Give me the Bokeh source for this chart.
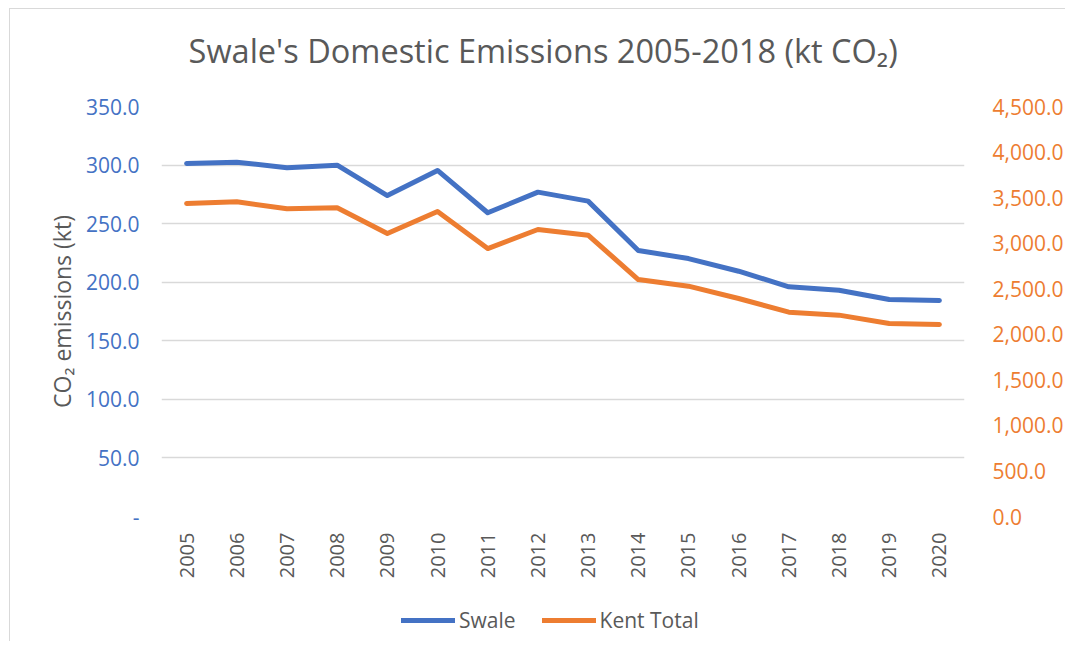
import math
from bokeh.plotting import figure
from bokeh.layouts import column
from bokeh.models import (Range1d, LinearAxis, FixedTicker, NumeralTickFormatter,
                          Legend, LegendItem, Label)
from bokeh.embed import file_html
from bokeh.resources import INLINE

years = list(range(2005, 2021))
swale = [301.3, 302.5, 297.7, 299.9, 274.0, 295.4, 259.3, 276.9, 269.2, 227.1,
         220.2, 209.4, 196.1, 193.2, 185.2, 184.4]
kent_total = [3435, 3454, 3377, 3388, 3106, 3348, 2941, 3150, 3088, 2601,
              2528, 2393, 2243, 2210, 2118, 2107]
left_ticks = [0, 50, 100, 150, 200, 250, 300, 350]
right_ticks = [0, 500, 1000, 1500, 2000, 2500, 3000, 3500, 4000, 4500]
series_names = ["Swale", "Kent Total"]
title_text = "Swale's Domestic Emissions 2005-2018 (kt CO\u2082)"

BLUE = "#4472C4"
ORANGE = "#ED7D31"
GREY = "#595959"
BORDER = "#d9d9d9"
FONT = "Open Sans"


def strip(height, margin, styles):
    f = figure(width=1056, height=height, output_backend="svg", toolbar_location=None,
               x_axis_type=None, y_axis_type=None, x_range=Range1d(0, 1),
               y_range=Range1d(0, 1), min_border_left=0, min_border_right=0,
               min_border_top=0, min_border_bottom=0, margin=margin)
    f.styles = styles
    f.outline_line_color = None
    f.xgrid.grid_line_color = None
    f.ygrid.grid_line_color = None
    return f


# title strip (its frame is aligned with the chart's frame)
tt = strip(70, (8, 0, 0, 9), {"border-left": f"1px solid {BORDER}",
                              "border-top": f"1px solid {BORDER}"})
tt.add_layout(Label(x=0.4753, y=0.414, text=title_text, text_align="center",
                    text_baseline="middle", text_font=FONT, text_font_size="32.5px",
                    text_color=GREY))

p = figure(width=1056, height=519, output_backend="svg", toolbar_location=None,
           x_range=Range1d(2004.5, 2020.5), y_range=Range1d(0, 350),
           min_border_left=151, min_border_right=95, min_border_top=28,
           min_border_bottom=81, margin=(0, 0, 0, 9))
p.styles = {"border-left": f"1px solid {BORDER}"}
p.outline_line_color = None
p.background_fill_color = "white"
p.border_fill_color = "white"

p.extra_y_ranges = {"kent": Range1d(0, 4500)}

xa = p.xaxis[0]
xa.ticker = FixedTicker(ticks=years)
xa.major_label_orientation = math.pi / 2
xa.major_label_text_font = FONT
xa.major_label_text_font_size = "20px"
xa.major_label_text_color = GREY
xa.axis_line_color = None
xa.major_tick_line_color = None
xa.minor_tick_line_color = None
xa.major_label_standoff = 10

ya = p.yaxis[0]
ya.ticker = FixedTicker(ticks=left_ticks)
ya.formatter = NumeralTickFormatter(format="0.0")
ya.major_label_overrides = {0: "-"}
ya.major_label_text_font = FONT
ya.major_label_text_font_size = "21px"
ya.major_label_text_color = BLUE
ya.axis_line_color = None
ya.major_tick_line_color = None
ya.minor_tick_line_color = None
ya.major_label_standoff = 16
ya.axis_label = "CO\u2082 emissions (kt)"
ya.axis_label_text_font = FONT
ya.axis_label_text_font_size = "23px"
ya.axis_label_text_font_style = "normal"
ya.axis_label_text_color = GREY
ya.axis_label_standoff = 5

ra = LinearAxis(y_range_name="kent", ticker=FixedTicker(ticks=right_ticks),
                formatter=NumeralTickFormatter(format="0,0.0"))
ra.major_label_text_font = FONT
ra.major_label_text_font_size = "21px"
ra.major_label_text_color = ORANGE
ra.axis_line_color = None
ra.major_tick_line_color = None
ra.minor_tick_line_color = None
ra.major_label_standoff = 22
p.add_layout(ra, "right")

p.xgrid.grid_line_color = None
p.ygrid.grid_line_color = BORDER
p.ygrid.grid_line_width = 1.5

p.line(years, swale, line_color=BLUE, line_width=5, line_cap="round", line_join="round")
p.line(years, kent_total, line_color=ORANGE, line_width=5, line_cap="round",
       line_join="round", y_range_name="kent")

# legend strip below the chart
lg = strip(44, (0, 0, 0, 9), {"border-left": f"1px solid {BORDER}"})
# series drawn out of this strip's view; only their legend swatches show
k1 = lg.line(years, swale, line_color=BLUE, line_width=5, line_cap="round")
k2 = lg.line(years, kent_total, line_color=ORANGE, line_width=5, line_cap="round")
legend = Legend(items=[LegendItem(label=series_names[0], renderers=[k1]),
                       LegendItem(label=series_names[1], renderers=[k2])],
                orientation="horizontal", location=(240, 7))
legend.label_text_font = FONT
legend.label_text_font_size = "21px"
legend.label_text_color = GREY
legend.glyph_width = 54
legend.label_standoff = 4
legend.spacing = 26
legend.border_line_color = None
legend.background_fill_alpha = 0
legend.margin = 0
legend.padding = 5
lg.add_layout(legend, "center")

layout = column(tt, p, lg, spacing=0)
open("out.html", "w").write(file_html(layout, INLINE))
